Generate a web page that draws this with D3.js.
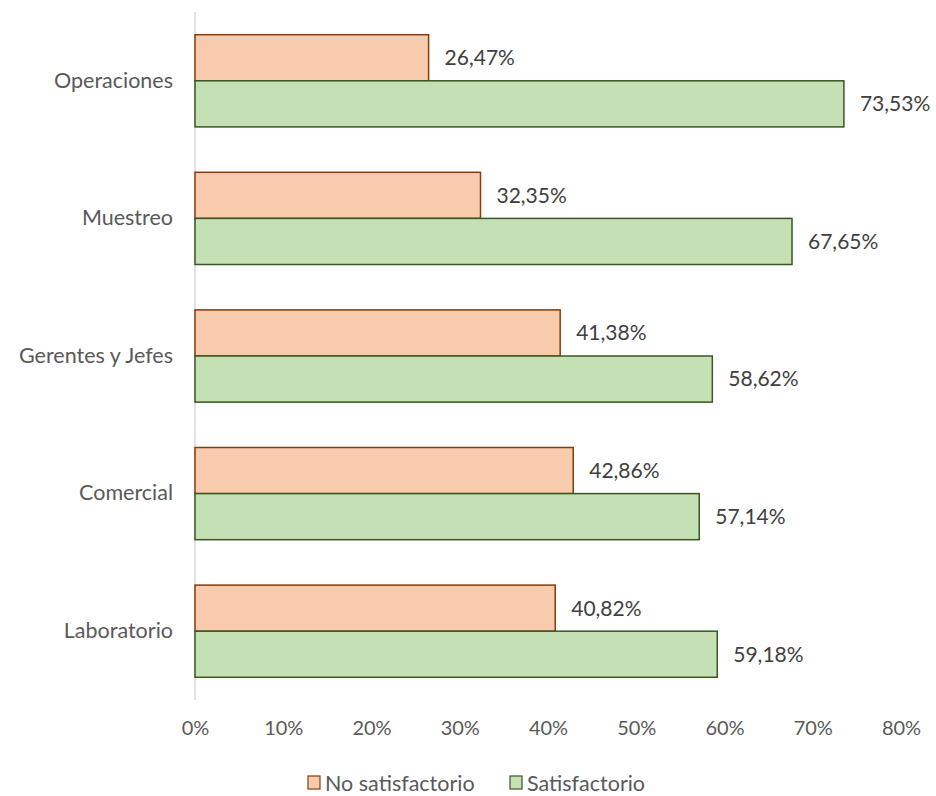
<!DOCTYPE html>
<html><head><meta charset="utf-8">
<script src="https://cdn.jsdelivr.net/npm/d3@7"></script>
<style>body{margin:0;background:#fff}svg{display:block}text{font-family:Lato,"Open Sans",sans-serif}</style>
</head><body><div id="chart"></div>
<script>
const categories = ["Operaciones","Muestreo","Gerentes y Jefes","Comercial","Laboratorio"];
const noSatisfactorio = [26.47,32.35,41.38,42.86,40.82];
const satisfactorio = [73.53,67.65,58.62,57.14,59.18];
const seriesNames = ["No satisfactorio","Satisfactorio"];
const tickValues = [0,10,20,30,40,50,60,70,80];

const W=936,H=796;
const fills=["#F8CBAD","#C5E0B4"], strokes=["#843C0C","#385723"];
const svg=d3.select("#chart").append("svg").attr("width",W).attr("height",H);
const x=d3.scaleLinear().domain([0,80]).range([195,901]);
const y=d3.scaleBand().domain(categories).range([12,700]).paddingInner(0.33).paddingOuter(0.165);
const ys=d3.scaleBand().domain([0,1]).range([0,y.bandwidth()]);
const fmt=v=>v.toFixed(2).replace(".",",")+"%";

svg.append("line").attr("x1",x(0)).attr("x2",x(0)).attr("y1",12).attr("y2",700).attr("stroke","#D9D9D9").attr("stroke-width",1.5);

const xAxis=d3.axisBottom(x).tickValues(tickValues).tickSize(0).tickFormat(d=>d+"%");
const gx=svg.append("g").attr("transform","translate(0,718)").call(xAxis);
gx.select(".domain").remove();
gx.selectAll("text").attr("font-size",20).attr("fill","#595959").attr("font-family","Lato,sans-serif");

const yAxis=d3.axisLeft(y).tickSize(0).tickPadding(22);
const gy=svg.append("g").attr("transform",`translate(${x(0)},0)`).call(yAxis);
gy.select(".domain").remove();
gy.selectAll("text").attr("font-size",21.5).attr("fill","#595959").attr("font-family","Lato,sans-serif");

const data=[noSatisfactorio,satisfactorio];
data.forEach((vals,si)=>{
  const g=svg.append("g");
  g.selectAll("rect").data(vals).join("rect")
    .attr("x",x(0)).attr("y",(d,i)=>y(categories[i])+ys(si))
    .attr("width",d=>x(d)-x(0)).attr("height",ys.bandwidth())
    .attr("fill",fills[si]).attr("stroke",strokes[si]).attr("stroke-width",1.5);
  g.selectAll("text").data(vals).join("text")
    .attr("x",d=>x(d)+16).attr("y",(d,i)=>y(categories[i])+ys(si)+ys.bandwidth()/2)
    .attr("dy","0.35em").attr("font-size",21).attr("fill","#404040").text(fmt);
});

const legX=[308,510];
seriesNames.forEach((n,i)=>{
  svg.append("rect").attr("x",legX[i]).attr("y",776).attr("width",12).attr("height",13)
    .attr("fill",fills[i]).attr("stroke",strokes[i]).attr("stroke-width",1.2);
  svg.append("text").attr("x",legX[i]+17).attr("y",783).attr("dy","0.35em")
    .attr("font-size",21.5).attr("fill","#595959").text(n);
});
</script></body></html>
